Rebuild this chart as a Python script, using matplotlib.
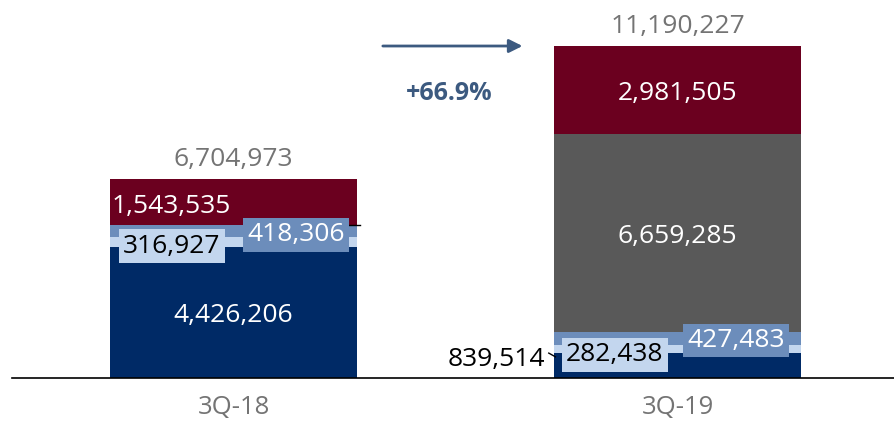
import matplotlib
matplotlib.use("Agg")
import matplotlib.pyplot as plt
import numpy as np

plt.rcParams['font.family'] = ['Open Sans', 'DejaVu Sans']

categories = ["3Q-18", "3Q-19"]
navy_vals = [4426206, 839514]
light_vals = [316927, 282438]
mid_vals = [418306, 427483]
gray_vals = [0, 6659285]
maroon_vals = [1543535, 2981505]
totals = [6704973, 11190227]
growth_label = "+66.9%"

c_navy = "#002a66"
c_light = "#c3d6ee"
c_mid = "#6c8dbb"
c_gray = "#595959"
c_maroon = "#6b001f"
c_text_gray = "#747474"
c_arrow = "#3c5a80"

W, H = 894, 421
fig = plt.figure(figsize=(W/100, H/100), dpi=100)
ax = fig.add_axes([12/W, 43/H, 1 - 12/W, 1 - 43/H])

x = np.arange(len(categories))
bw = 0.556
series = [(navy_vals, c_navy), (light_vals, c_light), (mid_vals, c_mid),
          (gray_vals, c_gray), (maroon_vals, c_maroon)]
bottom = np.zeros(len(categories))
bottoms = []
for vals, col in series:
    v = np.array(vals, dtype=float)
    ax.bar(x, v, bw, bottom=bottom, color=col, linewidth=0, zorder=2)
    bottoms.append(bottom.copy())
    bottom = bottom + v

scale = 332 / 11190227  # px per unit
ax.set_xlim(-0.499, 1.4876)
ax.set_ylim(0, 378 / scale)

for s in ["top", "right", "left"]:
    ax.spines[s].set_visible(False)
ax.spines["bottom"].set_color("black")
ax.spines["bottom"].set_linewidth(1.2)
ax.set_yticks([])
ax.set_xticks(x)
ax.set_xticklabels(categories, fontsize=18.5, color=c_text_gray)
ax.tick_params(axis="x", length=0, pad=12)

fs = 19
dy = -0.1e6
def fmt(v):
    return f"{v:,}"

# totals
for i in range(2):
    ax.text(x[i], totals[i] + 0.25e6, fmt(totals[i]), ha="center", va="bottom",
            fontsize=fs, color=c_text_gray)

# big segment labels
ax.text(x[0], navy_vals[0] / 2 + dy, fmt(navy_vals[0]), ha="center", va="center",
        fontsize=fs, color="white", zorder=5)
ax.text(x[1], bottoms[3][1] + gray_vals[1] / 2 + dy, fmt(gray_vals[1]), ha="center",
        va="center", fontsize=fs, color="white", zorder=5)
ax.text(x[1], bottoms[4][1] + maroon_vals[1] / 2 + dy, fmt(maroon_vals[1]), ha="center",
        va="center", fontsize=fs, color="white", zorder=5)
ax.text(x[0] - 0.141, bottoms[4][0] + maroon_vals[0] / 2 - 0.05e6 + dy, fmt(maroon_vals[0]),
        ha="center", va="center", fontsize=fs, color="white", zorder=5)

# boxed labels
def boxed(xx, yy, txt, fc, tc):
    ax.text(xx, yy, txt, ha="center", va="center", fontsize=fs, color=tc, zorder=6,
            bbox=dict(boxstyle="square,pad=0.16", fc=fc, ec="none"))

boxed(x[0] - 0.139, bottoms[1][0] + light_vals[0] / 2 - 0.04e6 + dy, fmt(light_vals[0]), c_light, "black")
boxed(x[0] + 0.14, bottoms[2][0] + mid_vals[0] / 2 - 0.03e6 + dy, fmt(mid_vals[0]), c_mid, "white")
boxed(x[1] - 0.141, bottoms[1][1] + light_vals[1] / 2 - 0.1e6 + dy, fmt(light_vals[1]), c_light, "black")
boxed(x[1] + 0.132, bottoms[2][1] + mid_vals[1] / 2 + 0.02e6 + dy, fmt(mid_vals[1]), c_mid, "white")

# leader lines
ax.plot([x[0] + 0.258, x[0] + 0.285], [bottoms[3][0], bottoms[3][0]], color="black",
        lw=1, zorder=4)
ax.text(x[1] - 0.298, navy_vals[1] * 0.88 + dy, fmt(navy_vals[1]), ha="right", va="center",
        fontsize=fs, color="black", zorder=6)
ax.plot([x[1] - 0.29, x[1] - 0.275], [navy_vals[1] * 1.0, navy_vals[1] * 0.85],
        color="black", lw=1, zorder=4)

# growth arrow
ax.annotate("", xy=(0.657, 11.19e6), xytext=(0.33, 11.19e6),
            arrowprops=dict(arrowstyle="-|>,head_length=0.8,head_width=0.4",
                            color=c_arrow, lw=2))
ax.text(0.485, 9.6e6, growth_label, ha="center", va="center", fontsize=18,
        fontweight="bold", color=c_arrow)

fig.savefig("out.png", dpi=100)
